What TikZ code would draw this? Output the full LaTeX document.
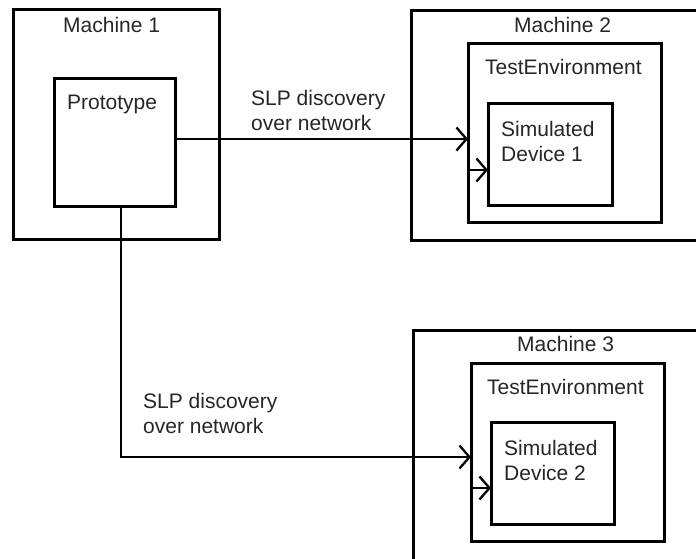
\documentclass[tikz,border=0pt]{standalone}
\usepackage{fontspec}
\setmainfont{Liberation Sans}
\usetikzlibrary{arrows.meta}
\begin{document}
\begin{tikzpicture}[x=1pt,y=-1pt,
  box/.style={draw, line width=3pt, inner sep=0pt, outer sep=0pt},
  lbl/.style={anchor=base west, inner sep=0pt, align=left, text=black!85,
    font=\fontsize{21}{24.5}\selectfont},
  conn/.style={line width=2.3pt},
  arr/.style={-{Straight Barb[length=10pt,width=23pt,line width=2.3pt]}}]
\useasboundingbox (0,0) rectangle (696,558);
\clip (0,0) rectangle (696,558);
% boxes
\node[box, minimum width=206pt, minimum height=230pt] (m1) at (116,124) {};
\node[box, minimum width=121pt, minimum height=128pt] (proto) at (114.5,142) {};
\node[box, minimum width=309pt, minimum height=230pt] (m2) at (565.5,125) {};
\node[box, minimum width=193pt, minimum height=179pt] (te2) at (564.5,132.5) {};
\node[box, minimum width=124pt, minimum height=102pt] (dev1) at (550,154) {};
\node[box, minimum width=307pt, minimum height=250pt] (m3) at (566.5,455) {};
\node[box, minimum width=193pt, minimum height=178pt] (te3) at (567.5,452) {};
\node[box, minimum width=123pt, minimum height=102pt] (dev2) at (552.5,473) {};
% labels (base anchor = baseline of last line)
\node[lbl] (lm1) at (63,32) {Machine 1};
\node[lbl] (lproto) at (67,109) {Prototype};
\node[lbl] (lm2) at (514,32) {Machine 2};
\node[lbl] (lte2) at (485,74) {TestEnvironment};
\node[lbl] (ldev1) at (501,161) {Simulated\\Device 1};
\node[lbl] (lm3) at (517,351) {Machine 3};
\node[lbl] (lte3) at (487,394) {TestEnvironment};
\node[lbl] (ldev2) at (504,480) {Simulated\\Device 2};
\node[lbl] (lslp1) at (251,130) {SLP discovery\\over network};
\node[lbl] (lslp2) at (143,433) {SLP discovery\\over network};
% connectors
\coordinate (a1) at ([yshift=3pt]proto.east);
\draw[conn, arr] (a1) -- (a1 -| te2.west);
\coordinate (b1) at ([yshift=-37.5pt]te2.west);
\draw[conn, arr] (b1) -- (b1 -| dev1.west);
\coordinate (a2) at ([xshift=6.5pt]proto.south);
\coordinate (t3) at ([yshift=-5pt]te3.west);
\draw[conn, arr] (a2) |- (t3);
\coordinate (b2) at ([yshift=-36pt]te3.west);
\draw[conn, arr] (b2) -- (b2 -| dev2.west);
\end{tikzpicture}
\end{document}
